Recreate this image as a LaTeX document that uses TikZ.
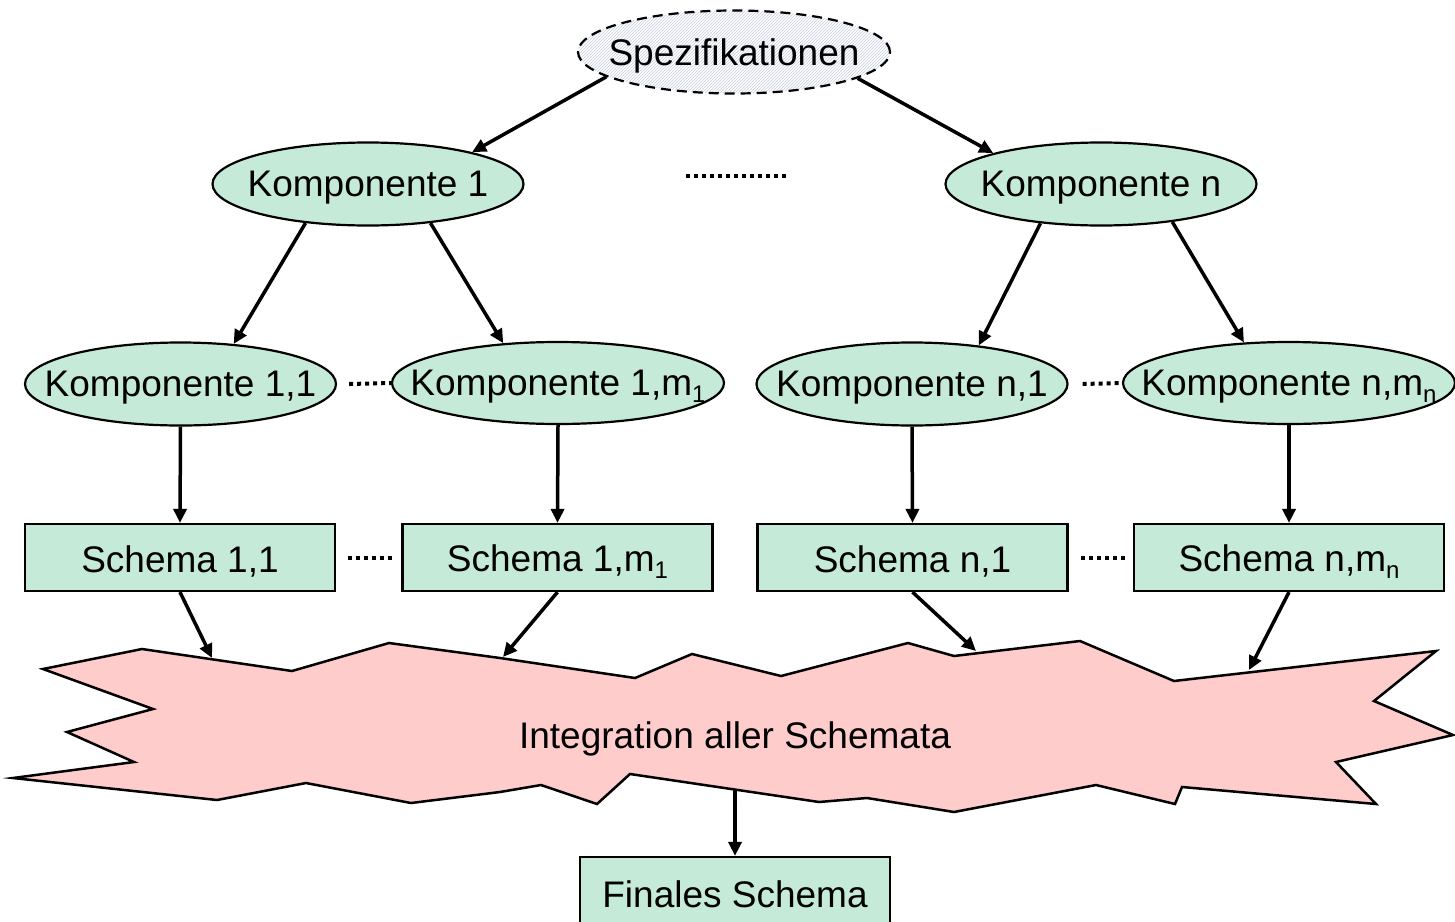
\documentclass[tikz,border=0pt]{standalone}
\usepackage{fontspec}
\setmainfont{Liberation Sans}
\usetikzlibrary{arrows.meta,patterns,shapes.geometric}
\definecolor{mint}{RGB}{197,234,215}
\definecolor{pinkfill}{RGB}{255,204,204}
\definecolor{stripe}{RGB}{200,206,222}
\newcommand{\lowtxt}[1]{\raisebox{-4pt}[\height][\depth]{#1}}
\newcommand{\subtx}[1]{\raisebox{-7pt}{\fontsize{24}{26}\selectfont #1}}
\begin{document}
\begin{tikzpicture}[x=1pt,y=-1pt,
  font=\fontsize{37}{40}\selectfont,
  comp/.style={ellipse,draw,line width=2.2pt,fill=mint,inner sep=0pt,minimum width=311pt,minimum height=83pt},
  compw/.style={comp,minimum width=332pt,minimum height=82pt},
  schem/.style={rectangle,draw,line width=2.2pt,fill=mint,inner sep=0pt,minimum width=310pt,minimum height=67pt},
  arr/.style={line width=3.5pt,-{Triangle[length=14pt,width=13pt]}},
  dotrow/.style={line width=4pt,dash pattern=on 4pt off 4pt}]
\useasboundingbox (0,0) rectangle (1455,921);

% integration shape
\draw[line width=2.5pt,fill=pinkfill,line join=miter]
 (142,649) -- (292,671) -- (389,643) -- (500,658) -- (635,678) -- (692,654) -- (781,676) -- (908,643) -- (954,656) -- (1080,641) -- (1174,681) -- (1436,651) -- (1374,701) -- (1453,735) -- (1336,762) -- (1376,804) -- (1182,787) -- (1175,804) -- (1096,785) -- (954,812) -- (867,798) -- (819,802) -- (630,774) -- (597,804) -- (541,785) -- (500,792) -- (411,803) -- (306,783) -- (217,800) -- (13,778) -- (134,762) -- (67,732) -- (153,709) -- (43,669) -- cycle;
\node (integ) at (735,735) {\lowtxt{Integration aller Schemata}};
\coordinate (in1) at (212,658);
\coordinate (in2) at (503,657);
\coordinate (in3) at (976,651);
\coordinate (in4) at (1249,670);
\coordinate (out) at (735,789);

% nodes
\node[ellipse,draw,line width=2.2pt,dash pattern=on 10pt off 6pt,preaction={fill=white},pattern=north east lines,pattern color=stripe,inner sep=0pt,minimum width=312pt,minimum height=83pt] (spez) at (734,52) {\makebox[0pt]{\lowtxt{Spezifikationen}}};

\node[comp] (k1) at (368,184) {\makebox[0pt]{\lowtxt{Komponente 1}}};
\node[comp] (kn) at (1101,184) {\makebox[0pt]{\lowtxt{Komponente n}}};

\node[comp] (k11) at (180.5,384) {\makebox[0pt]{\lowtxt{Komponente 1,1}}};
\node[compw] (k1m) at (558,383) {\makebox[0pt]{\lowtxt{Komponente 1,m\subtx{1}}}};
\node[comp] (kn1) at (912,384) {\makebox[0pt]{\lowtxt{Komponente n,1}}};
\node[compw] (knm) at (1289,383) {\makebox[0pt]{\lowtxt{Komponente n,m\subtx{n}}}};

\node[schem] (s11) at (180,557.5) {\makebox[0pt]{\lowtxt{Schema 1,1}}};
\node[schem] (s1m) at (557.5,557.5) {\makebox[0pt]{\lowtxt{Schema 1,m\subtx{1}}}};
\node[schem] (sn1) at (912.5,557.5) {\makebox[0pt]{\lowtxt{Schema n,1}}};
\node[schem] (snm) at (1289,557.5) {\makebox[0pt]{\lowtxt{Schema n,m\subtx{n}}}};

\node[schem] (final) at (735,890.5) {\makebox[0pt]{\lowtxt{Finales Schema}}};

% dotted rows
\draw[dotrow] (686,176) -- (788,176);
\draw[dotrow] ([xshift=12pt]k11.east) -- (k1m.west);
\draw[dotrow] ([xshift=14pt]kn1.east) -- (knm.west);
\draw[dotrow] ([xshift=12pt]s11.east) -- ([xshift=-9pt]s1m.west);
\draw[dotrow] ([xshift=12pt]sn1.east) -- ([xshift=-8pt]snm.west);

% arrows
\draw[arr] (spez.191) -- (k1.17);
\draw[arr] (spez.348) -- (kn.164);
\draw[arr] (k1.212) -- (k11.37);
\draw[arr] (k1.328) -- (k1m.144);
\draw[arr] (kn.213) -- (kn1.30);
\draw[arr] (kn.332) -- (knm.138);
\draw[arr] (k11.south) -- (s11.north);
\draw[arr] (k1m.south) -- (s1m.north);
\draw[arr] (kn1.south) -- (sn1.north);
\draw[arr] (knm.south) -- (snm.north);
\draw[arr] (s11.south) -- (in1);
\draw[arr] (s1m.south) -- (in2);
\draw[arr] (sn1.south) -- (in3);
\draw[arr] (snm.south) -- (in4);
\draw[arr] (out) -- (final.north);
\end{tikzpicture}
\end{document}
